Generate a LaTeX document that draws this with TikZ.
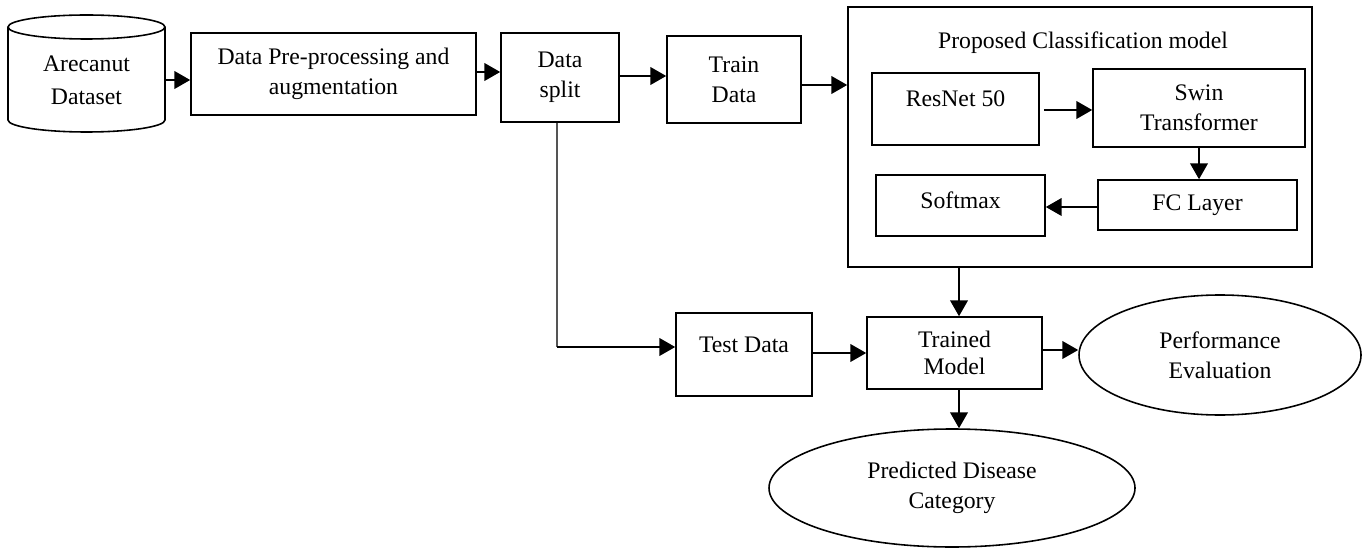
\documentclass[tikz,border=0pt]{standalone}
\usepackage{fontspec}
\setmainfont{Liberation Serif}
\usetikzlibrary{arrows.meta,shapes.geometric}
\definecolor{splitgray}{HTML}{555555}
\begin{document}
\begin{tikzpicture}[x=0.02cm,y=-0.02cm,
  every node/.style={font=\fontsize{13.5}{17}\selectfont},
  wh/.style 2 args={minimum width=#1*0.02cm, minimum height=#2*0.02cm},
  box/.style={draw, line width=0.9pt, inner sep=0pt, align=center},
  area/.style={inner sep=0pt},
  oval/.style={draw, ellipse, line width=0.9pt, inner sep=0pt, align=center},
  caption/.style={align=center, inner sep=0pt},
  arr/.style={line width=1.1pt, -{Triangle[length=9pt,width=10pt]}}]
\useasboundingbox (0,0) rectangle (1364,550);

% dataset cylinder
\draw[line width=0.9pt] (8,27) -- (8,120)
  arc[start angle=180,end angle=0,x radius=78.5,y radius=12] -- (165,27);
\draw[line width=0.9pt] (86.5,27) ellipse [x radius=78.5, y radius=12];
\node[area, wh={157}{117}] (data) at (86.5,73.5) {};
\node[caption] (dataT) at (86.5,80) {Arecanut\\[2pt]Dataset};

% pipeline boxes
\node[box, wh={285}{82}] (pre) at (333.5,74) {Data Pre-processing and\\augmentation};
\node[box, wh={118}{89}] (split) at (560,77.5) {Data\\split};
\node[box, wh={134}{87}] (train) at (734,79.5) {Train\\Data};

% classification model
\node[box, wh={464}{260}] (model) at (1080,137) {};
\node[caption] (modelT) at (1083,43) {Proposed Classification model};
\node[box, wh={167}{72}] (resnet) at (955.5,109) {};
\node[caption] (resnetT) at (955.5,99) {ResNet 50};
\node[box, wh={212}{78}] (swin) at (1199,108) {Swin\\Transformer};
\node[box, wh={199}{50}] (fc) at (1197.5,205) {FC Layer};
\node[box, wh={169}{61}] (soft) at (960.5,205.5) {};
\node[caption] (softT) at (960.5,200) {Softmax};

% evaluation stage
\node[box, wh={136}{83}] (test) at (744,354.5) {};
\node[caption] (testT) at (744,345) {Test Data};
\node[box, wh={175}{72}] (trained) at (954.5,353) {Trained\\[-2pt]Model};
\node[oval, wh={282}{120}] (perf) at (1220,355) {Performance\\Evaluation};
\node[oval, wh={366}{118}] (pred) at (952,488) {Predicted Disease\\Category};

% connectors
\draw[arr] (data.east |- 0,80) -- (pre.west |- 0,80);
\draw[arr] (pre.east |- 0,72) -- (split.west |- 0,72);
\draw[arr] (split.east |- 0,76) -- (train.west |- 0,76);
\draw[arr] (train.east |- 0,85) -- (model.west |- 0,85);
\draw[arr] ([xshift=4*0.02cm]resnet.east |- 0,110) -- (swin.west |- 0,110);
\draw[arr] (swin.south -| 1199,0) -- (fc.north -| 1199,0);
\draw[arr] (fc.west |- 0,207) -- (soft.east |- 0,207);
\draw[arr] (model.south -| 959,0) -- (trained.north -| 959,0);
\draw[line width=0.6pt, splitgray] (split.south -| 557,0) -- (557,347) coordinate (bend);
\draw[arr] (bend) -- (test.west |- bend);
\draw[arr] (test.east |- 0,353) -- (trained.west |- 0,353);
\draw[arr] (trained.east |- 0,350) -- (perf.west |- 0,350);
\draw[arr] (trained.south -| 959,0) -- (pred.north -| 959,0);
\end{tikzpicture}
\end{document}
